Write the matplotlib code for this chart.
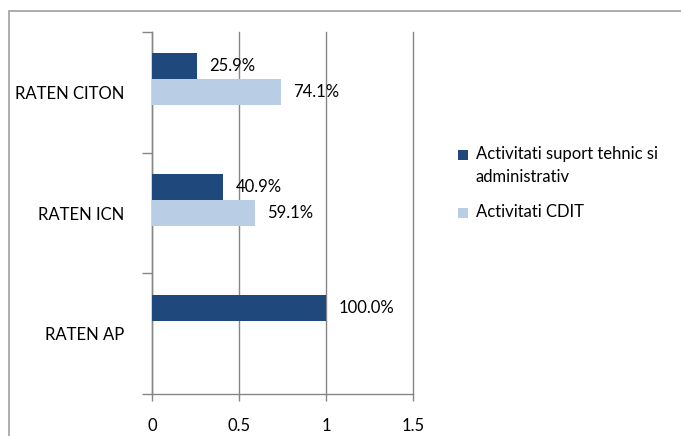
import numpy as np
import matplotlib.pyplot as plt
from matplotlib.patches import Rectangle

plt.rcParams['font.family'] = ['Lato', 'DejaVu Sans']

categories = ["RATEN AP", "RATEN ICN", "RATEN CITON"]
suport = [1.0, 0.409, 0.259]
cdit = [0.0, 0.591, 0.741]
suport_labels = ["100.0%", "40.9%", "25.9%"]
cdit_labels = ["", "59.1%", "74.1%"]
series_names = ["Activitati suport tehnic si\nadministrativ", "Activitati CDIT"]
xticks = [0, 0.5, 1, 1.5]
xticklabels = ["0", "0.5", "1", "1.5"]

dark = "#1F497D"
light = "#B9CDE5"
grey = "#868686"
fs = 12

fig = plt.figure(figsize=(6.81, 4.36), dpi=100)
# outer chart frame (runs off the right/bottom edges like the reference)
fig.patches.append(Rectangle((9 / 681, -0.05), 1.0, 1 - 11 / 436 + 0.05,
                             transform=fig.transFigure, fill=False,
                             edgecolor="#A0A0A0", linewidth=1.2))

ax = fig.add_axes([152 / 681, 1 - 394 / 436, (413 - 152) / 681, (394 - 32) / 436])

y = np.arange(len(categories))
h = 0.215
b1 = ax.barh(y + h, suport, height=h, color=dark, zorder=3)
b2 = ax.barh(y, cdit, height=h, color=light, zorder=3)

for i in range(len(categories)):
    if suport_labels[i]:
        ax.text(suport[i] + 0.07, y[i] + h, suport_labels[i], va="center",
                ha="left", fontsize=fs, zorder=4)
    if cdit_labels[i]:
        ax.text(cdit[i] + 0.07, y[i], cdit_labels[i], va="center",
                ha="left", fontsize=fs, zorder=4)

ax.set_xlim(0, 1.5)
ax.set_ylim(-0.5, 2.5)
ax.set_xticks(xticks)
ax.set_xticklabels(xticklabels, fontsize=fs)
ax.set_yticks(y)
ax.set_yticklabels(categories, fontsize=fs)
ax.set_yticks([-0.5, 0.5, 1.5, 2.5], minor=True)
ax.tick_params(axis="y", which="major", length=0, pad=20)
ax.tick_params(axis="y", which="minor", length=7, color=grey, width=1)
ax.tick_params(axis="x", length=5, color=grey, width=1, pad=12)

ax.xaxis.grid(True, color=grey, linewidth=1, zorder=0)
for gl in ax.get_xgridlines():
    gl.set_clip_on(False)
for s in ["top", "right"]:
    ax.spines[s].set_visible(False)
for s in ["left", "bottom"]:
    ax.spines[s].set_color(grey)
    ax.spines[s].set_linewidth(1)

# legend drawn by hand so the marker sits on the first text line
leg_colors = [dark, light]
leg_y = [155, 213]
for name, col, ly in zip(series_names, leg_colors, leg_y):
    fig.patches.append(Rectangle((458 / 681, 1 - (ly + 5) / 436), 10 / 681, 10 / 436,
                                 transform=fig.transFigure, facecolor=col,
                                 edgecolor="none"))
    fig.text(476 / 681, 1 - (ly - 9) / 436, name, ha="left", va="top",
             fontsize=fs, linespacing=1.55)

fig.savefig("out.png", dpi=100)
